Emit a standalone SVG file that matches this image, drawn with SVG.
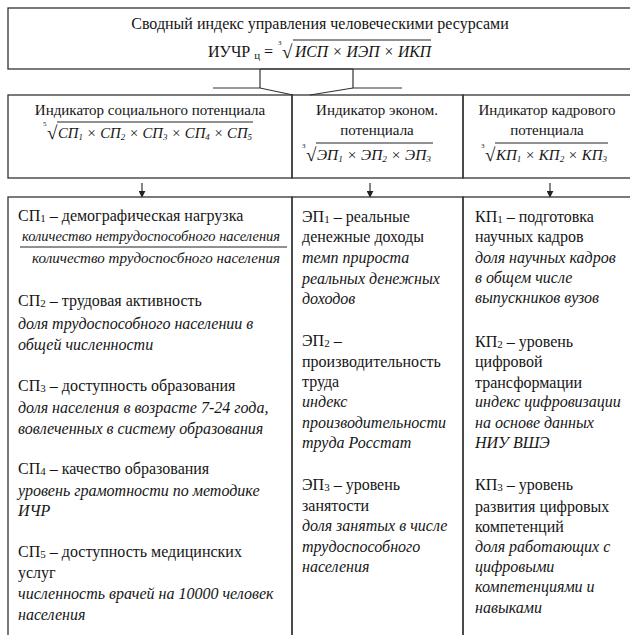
<svg xmlns="http://www.w3.org/2000/svg" width="630" height="635" viewBox="0 0 630 635">
<style>
.t{font-family:"Liberation Serif","Times New Roman","DejaVu Serif",serif;font-size:16px;fill:#151515}
.i{font-style:italic}
.s{font-size:15px}
.f{font-size:15px}
.sb{font-size:11px}
.fs{font-size:9px}
.rt{font-size:19px;font-style:normal}
.ix{font-size:7px;font-style:normal}
.box{fill:none;stroke:#333;stroke-width:1.3}
.conn{fill:none;stroke:#333;stroke-width:1.2}
.vin{stroke:#222;stroke-width:1}
</style>
<defs>
<marker id="ah" viewBox="0 0 10 10" refX="9" refY="5" markerWidth="7" markerHeight="7" orient="auto" markerUnits="userSpaceOnUse">
<path d="M0,0 L10,5 L0,10 z" fill="#222"/>
</marker>
</defs>
<rect width="630" height="635" fill="#fff"/>

<g id="top">
<rect class="box" x="8" y="8" width="640" height="61"/>
<text class="t" x="320" y="29" text-anchor="middle">Сводный индекс управления человеческими ресурсами</text>
<text class="t" x="208" y="57">ИУЧР <tspan class="sb" dy="2">ц</tspan><tspan dy="-2"> =</tspan></text>
<text class="t ix" x="278" y="45">3</text>
<text class="t rt" x="282" y="58">√</text>
<line class="vin" x1="293" y1="40" x2="431" y2="40"/>
<text class="t i" x="295" y="57" textLength="136" lengthAdjust="spacingAndGlyphs">ИСП × ИЭП × ИКП</text>
</g>

<g id="connectors">
<path class="conn" d="M213,88 L260,88 L293,95"/>
<path class="conn" d="M260,69 L260,88"/>
<path class="conn" d="M260,69 L353,69"/>
<path class="conn" d="M353,69 L353,88 L402,88"/>
<path class="conn" d="M353,88 L310,95"/>
<line class="conn" x1="142" y1="183" x2="142" y2="197" marker-end="url(#ah)"/>
<line class="conn" x1="370" y1="183" x2="370" y2="197" marker-end="url(#ah)"/>
<line class="conn" x1="550" y1="183" x2="550" y2="197" marker-end="url(#ah)"/>
</g>

<g id="ind-social">
<rect class="box" x="8" y="95" width="284" height="83"/>
<text class="t s" x="150" y="115" text-anchor="middle">Индикатор социального потенциала</text>
<text class="t ix" x="43" y="126">5</text>
<text class="t rt" x="47" y="139">√</text>
<line class="vin" x1="57" y1="122" x2="253" y2="122"/>
<text class="t i f" x="58" y="138" textLength="194" lengthAdjust="spacingAndGlyphs">СП<tspan class="fs" dy="2">1</tspan><tspan dy="-2"> × СП</tspan><tspan class="fs" dy="2">2</tspan><tspan dy="-2"> × СП</tspan><tspan class="fs" dy="2">3</tspan><tspan dy="-2"> × СП</tspan><tspan class="fs" dy="2">4</tspan><tspan dy="-2"> × СП</tspan><tspan class="fs" dy="2">5</tspan></text>
</g>

<g id="ind-econ">
<rect class="box" x="292" y="95" width="171" height="83"/>
<text class="t s" x="377" y="115" text-anchor="middle">Индикатор эконом.</text>
<text class="t s" x="377" y="135" text-anchor="middle">потенциала</text>
<text class="t ix" x="302" y="148">3</text>
<text class="t rt" x="306" y="161">√</text>
<line class="vin" x1="316" y1="143" x2="433" y2="143"/>
<text class="t i f" x="317" y="160" textLength="114" lengthAdjust="spacingAndGlyphs">ЭП<tspan class="fs" dy="2">1</tspan><tspan dy="-2"> × ЭП</tspan><tspan class="fs" dy="2">2</tspan><tspan dy="-2"> × ЭП</tspan><tspan class="fs" dy="2">3</tspan></text>
</g>

<g id="ind-staff">
<rect class="box" x="463" y="95" width="180" height="83"/>
<text class="t s" x="547" y="115" text-anchor="middle">Индикатор кадрового</text>
<text class="t s" x="547" y="135" text-anchor="middle">потенциала</text>
<text class="t ix" x="481" y="148">3</text>
<text class="t rt" x="485" y="161">√</text>
<line class="vin" x1="495" y1="143" x2="608" y2="143"/>
<text class="t i f" x="496" y="160" textLength="111" lengthAdjust="spacingAndGlyphs">КП<tspan class="fs" dy="2">1</tspan><tspan dy="-2"> × КП</tspan><tspan class="fs" dy="2">2</tspan><tspan dy="-2"> × КП</tspan><tspan class="fs" dy="2">3</tspan></text>
</g>

<g id="list-social">
<rect class="box" x="8" y="197" width="284" height="450"/>
<text class="t" x="18" y="221">СП<tspan class="sb" dy="1">1</tspan><tspan dy="-1"> – демографическая нагрузка</tspan></text>
<text class="t i s" x="22" y="241" textLength="258" lengthAdjust="spacingAndGlyphs">количество нетрудоспособного населения</text>
<line class="vin" x1="20" y1="247" x2="287" y2="247"/>
<text class="t i s" x="32" y="263" textLength="248" lengthAdjust="spacingAndGlyphs">количество трудоспосбного населения</text>
<text class="t" x="18" y="306">СП<tspan class="sb" dy="1">2</tspan><tspan dy="-1"> – трудовая активность</tspan></text>
<text class="t i" x="18" y="329">доля трудоспособного населении в</text>
<text class="t i" x="18" y="350">общей численности</text>
<text class="t" x="18" y="391">СП<tspan class="sb" dy="1">3</tspan><tspan dy="-1"> – доступность образования</tspan></text>
<text class="t i" x="18" y="413">доля населения в возрасте 7-24 года,</text>
<text class="t i" x="18" y="434">вовлеченных в систему образования</text>
<text class="t" x="18" y="474">СП<tspan class="sb" dy="1">4</tspan><tspan dy="-1"> – качество образования</tspan></text>
<text class="t i" x="18" y="496">уровень грамотности по методике</text>
<text class="t i" x="18" y="516">ИЧР</text>
<text class="t" x="18" y="557">СП<tspan class="sb" dy="1">5</tspan><tspan dy="-1"> – доступность медицинских</tspan></text>
<text class="t" x="18" y="578">услуг</text>
<text class="t i" x="18" y="599">численность врачей на 10000 человек</text>
<text class="t i" x="18" y="620">населения</text>
</g>

<g id="list-econ">
<rect class="box" x="292" y="197" width="171" height="450"/>
<text class="t" x="302" y="222">ЭП<tspan class="sb" dy="1">1</tspan><tspan dy="-1"> – реальные</tspan></text>
<text class="t" x="302" y="242">денежные доходы</text>
<text class="t i" x="302" y="263">темп прироста</text>
<text class="t i" x="302" y="284">реальных денежных</text>
<text class="t i" x="302" y="304">доходов</text>
<text class="t" x="302" y="346">ЭП<tspan class="sb" dy="1">2</tspan><tspan dy="-1"> –</tspan></text>
<text class="t" x="302" y="367">производительность</text>
<text class="t" x="302" y="387">труда</text>
<text class="t i" x="302" y="407">индекс</text>
<text class="t i" x="302" y="428">производительности</text>
<text class="t i" x="302" y="448">труда Росстат</text>
<text class="t" x="302" y="490">ЭП<tspan class="sb" dy="1">3</tspan><tspan dy="-1"> – уровень</tspan></text>
<text class="t" x="302" y="511">занятости</text>
<text class="t i" x="302" y="531">доля занятых в числе</text>
<text class="t i" x="302" y="552">трудоспособного</text>
<text class="t i" x="302" y="572">населения</text>
</g>

<g id="list-staff">
<rect class="box" x="463" y="197" width="180" height="450"/>
<text class="t" x="475" y="222">КП<tspan class="sb" dy="1">1</tspan><tspan dy="-1"> – подготовка</tspan></text>
<text class="t" x="475" y="242">научных кадров</text>
<text class="t i" x="475" y="263">доля научных кадров</text>
<text class="t i" x="475" y="283">в общем числе</text>
<text class="t i" x="475" y="303">выпускников вузов</text>
<text class="t" x="475" y="347">КП<tspan class="sb" dy="1">2</tspan><tspan dy="-1"> – уровень</tspan></text>
<text class="t" x="475" y="367">цифровой</text>
<text class="t" x="475" y="388">трансформации</text>
<text class="t i" x="475" y="407">индекс цифровизации</text>
<text class="t i" x="475" y="428">на основе данных</text>
<text class="t i" x="475" y="448">НИУ ВШЭ</text>
<text class="t" x="475" y="490">КП<tspan class="sb" dy="1">3</tspan><tspan dy="-1"> – уровень</tspan></text>
<text class="t" x="475" y="512">развития цифровых</text>
<text class="t" x="475" y="532">компетенций</text>
<text class="t i" x="475" y="552">доля работающих с</text>
<text class="t i" x="475" y="572">цифровыми</text>
<text class="t i" x="475" y="592">компетенциями и</text>
<text class="t i" x="475" y="613">навыками</text>
</g>
</svg>
